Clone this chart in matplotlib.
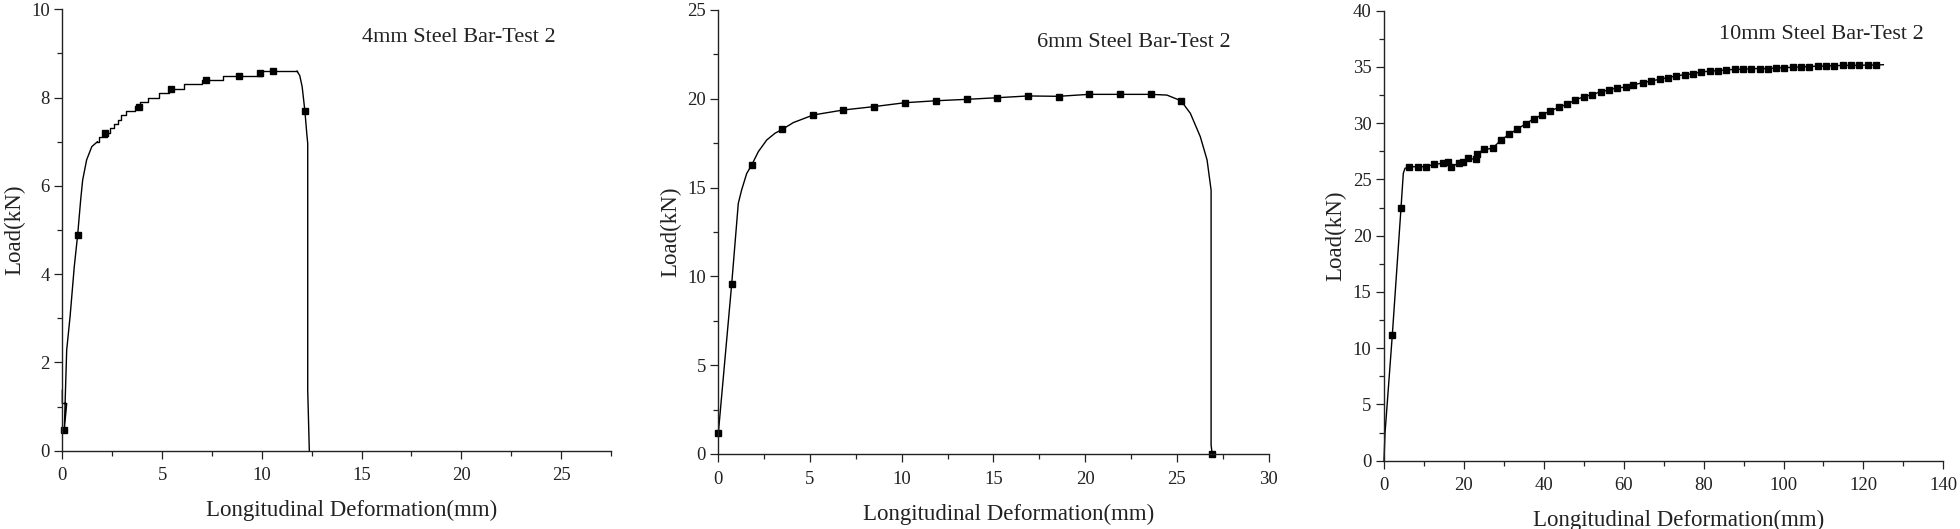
import matplotlib
matplotlib.use("Agg")
import matplotlib.pyplot as plt
import numpy as np
from matplotlib.ticker import MultipleLocator

plt.rcParams['font.family'] = ['Liberation Serif', 'DejaVu Serif']
INK = '#222222'

# ---- 4mm bar: elastic part, stepped plastic part (0.1 kN resolution), necking tail
d4_rise_x = [0, 0, 0.22, 0.10, 0.22, 0.39, 0.60, 0.77, 0.92, 1.02, 1.22, 1.48, 1.76]
d4_rise_y = [1.37, 1.07, 1.07, 0.48, 2.28, 3.04, 4.17, 4.89, 5.68, 6.13, 6.59, 6.89, 7.0]
d4_step_x = [1.76, 1.86, 2.23, 2.40, 2.60, 2.77, 2.94, 3.20, 3.66, 3.91, 4.28, 4.83,
             5.33, 6.12, 6.98, 8.07, 10.03, 11.76]
d4_step_y = [7.0, 7.1, 7.2, 7.3, 7.4, 7.5, 7.6, 7.7, 7.8, 7.9, 8.0, 8.1,
             8.2, 8.3, 8.4, 8.5, 8.6, 8.6]
d4_tail_x = [11.76, 11.90, 12.02, 12.16, 12.25, 12.30, 12.30, 12.38]
d4_tail_y = [8.6, 8.5, 8.25, 7.69, 7.2, 6.96, 1.37, 0.0]
d4_mark_x = [0.10, 0.77, 2.15, 3.83, 5.47, 7.18, 8.88, 9.92, 10.54, 12.16]
d4_mark_y = [0.48, 4.89, 7.19, 7.79, 8.19, 8.40, 8.49, 8.55, 8.60, 7.69]

# ---- 6mm bar
d6_x = [0, 0.73, 1.09, 1.27, 1.55, 1.82, 2.18, 2.64, 3.09, 3.49, 4.09, 5.18, 6.82,
        8.49, 10.18, 11.87, 13.55, 15.19, 16.88, 18.55, 20.21, 21.88, 23.57, 24.46,
        25.23, 25.74, 26.28, 26.65, 26.87, 26.87, 26.93]
d6_y = [1.16, 9.57, 14.11, 14.86, 15.80, 16.27, 17.02, 17.68, 18.06, 18.28, 18.66,
        19.09, 19.37, 19.56, 19.78, 19.89, 19.97, 20.06, 20.16, 20.14, 20.25, 20.25,
        20.25, 20.21, 19.89, 19.18, 17.87, 16.56, 14.86, 0.5, 0.0]
d6_mark_x = [0, 0.73, 1.82, 3.49, 5.18, 6.82, 8.49, 10.18, 11.87, 13.55, 15.19, 16.88,
             18.55, 20.21, 21.88, 23.57, 25.23, 26.93]
d6_mark_y = [1.16, 9.57, 16.27, 18.28, 19.09, 19.37, 19.56, 19.78, 19.89, 19.97, 20.04,
             20.16, 20.12, 20.25, 20.25, 20.25, 19.89, 0.0]

# ---- 10mm bar
d10_x = [0, 0.25, 2.08, 4.25, 4.83, 5.25, 6.33, 8.42, 10.5, 12.5, 14.67, 16.08, 16.67,
         18.83, 19.83, 21.08, 23.0, 23.17, 25.0, 27.17, 29.25, 31.33, 33.33, 35.42,
         37.5, 39.58, 41.67, 43.83, 45.83, 47.92, 50.0, 52.08, 54.25, 56.33, 58.33,
         60.5, 62.3, 64.8, 66.9, 69.0, 71.1, 73.2, 75.25, 77.3, 79.4, 81.5, 83.6,
         85.7, 87.75, 89.8, 91.9, 94.0, 96.1, 98.2, 100.25, 102.3, 104.4, 106.5,
         108.6, 110.7, 112.75, 114.8, 116.9, 119.0, 121.1, 123.1, 125.0]
d10_y = [0, 2.43, 11.17, 22.43, 25.54, 25.99, 26.13, 26.13, 26.13, 26.34, 26.43, 26.58,
         26.07, 26.49, 26.58, 26.87, 26.78, 27.26, 27.67, 27.76, 28.50, 29.0, 29.48,
         29.93, 30.40, 30.73, 31.11, 31.41, 31.70, 32.06, 32.36, 32.53, 32.80, 32.95,
         33.16, 33.19, 33.40, 33.60, 33.76, 33.90, 34.06, 34.20, 34.32, 34.38, 34.56,
         34.62, 34.68, 34.73, 34.79, 34.79, 34.85, 34.85, 34.85, 34.91, 34.94, 34.97,
         35.0, 35.03, 35.08, 35.08, 35.11, 35.14, 35.14, 35.14, 35.17, 35.17, 35.2]
d10_marked = [2, 3] + list(range(6, 66))

titles = ['4mm Steel Bar-Test 2', '6mm Steel Bar-Test 2', '10mm Steel Bar-Test 2']
xlims = [27.5, 30, 140]
ylims = [10, 25, 40]
xmajor = [5, 5, 20]
ymajor = [2, 5, 5]

W, H = 1960, 529
fig = plt.figure(figsize=(W / 100, H / 100), dpi=100)

# axes frames in pixels: left, right, top, bottom
frames = [(62.3, 611, 9.3, 450.7), (718.3, 1268.5, 10, 454), (1384, 1943.3, 10.7, 460.7)]
title_pos = [(362, 37), (1036.7, 42.7), (1719.3, 34.3)]

axes = []
for i, (l, r, t, b) in enumerate(frames):
    ax = fig.add_axes([l / W, 1 - b / H, (r - l) / W, (b - t) / H])
    axes.append(ax)
    ax.set_xlim(0, xlims[i])
    ax.set_ylim(0, ylims[i])
    ax.xaxis.set_major_locator(MultipleLocator(xmajor[i]))
    ax.xaxis.set_minor_locator(MultipleLocator(xmajor[i] / 2))
    ax.yaxis.set_major_locator(MultipleLocator(ymajor[i]))
    ax.yaxis.set_minor_locator(MultipleLocator(ymajor[i] / 2))
    for s in ['top', 'right']:
        ax.spines[s].set_visible(False)
    for s in ['left', 'bottom']:
        ax.spines[s].set_linewidth(1.0)
        ax.spines[s].set_color(INK)
    ax.tick_params(which='major', direction='out', length=6, width=0.9, color=INK,
                   labelsize=13.5, labelcolor=INK)
    ax.tick_params(which='minor', direction='out', length=3.5, width=0.9, color=INK)
    ax.tick_params(axis='x', which='major', pad=6)
    ax.tick_params(axis='y', which='major', pad=3)
    ax.set_xlabel('Longitudinal Deformation(mm)', fontsize=16.5, color=INK)
    ax.set_ylabel('Load(kN)', fontsize=16.5, color=INK)
    cx = (l + r) / 2 + 15
    ax.xaxis.set_label_coords((cx - l) / (r - l), -60 / (b - t))
    ax.xaxis.label.set_verticalalignment('center')
    ax.yaxis.set_label_coords(-48 / (r - l), 0.5)
    ax.yaxis.label.set_verticalalignment('center')
    tx, ty = title_pos[i]
    fig.text(tx / W, 1 - ty / H, titles[i], fontsize=16, color=INK, ha='left', va='center')

line_kw = dict(color='black', lw=1.0)
mark_kw = dict(color='black', marker='s', ms=4.5, ls='none')

ax = axes[0]
ax.plot(d4_rise_x, d4_rise_y, **line_kw)
ax.step(d4_step_x, d4_step_y, where='post', **line_kw)
ax.plot(d4_tail_x, d4_tail_y, **line_kw)
ax.plot(d4_mark_x, d4_mark_y, **mark_kw)

ax = axes[1]
ax.plot(d6_x, d6_y, **line_kw)
ax.plot(d6_mark_x, d6_mark_y, **mark_kw)

ax = axes[2]
ax.plot(d10_x, d10_y, **line_kw)
ax.plot(np.array(d10_x)[d10_marked], np.array(d10_y)[d10_marked], **mark_kw)

for ax in axes:
    for ln in ax.lines:
        ln.set_clip_on(False)

fig.savefig('out.png', dpi=100, facecolor='white')
